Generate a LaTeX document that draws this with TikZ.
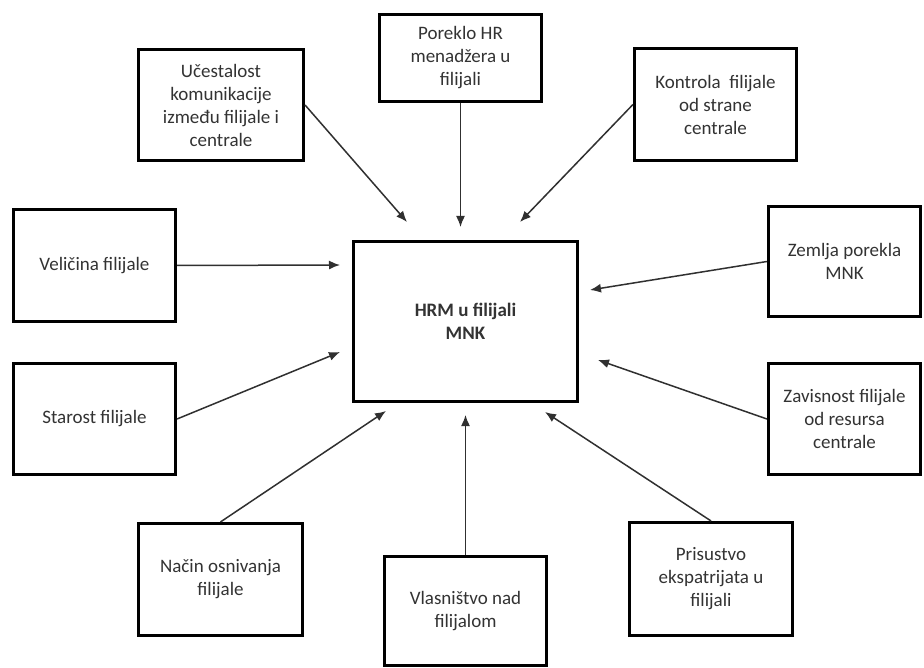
\documentclass[tikz,border=0pt]{standalone}
\usepackage{fontspec}
\setmainfont{Carlito}
\usetikzlibrary{arrows.meta,shadows}
\definecolor{txt}{HTML}{333333}
\definecolor{ln}{HTML}{303030}
\newcommand{\boxfont}{\fontsize{19}{23}\selectfont}
\tikzset{
  box/.style={draw=black, line width=2.6pt, fill=white, align=center, font=\boxfont, text=txt, inner sep=0pt},
  conn/.style={draw=ln, line width=1.5pt, -{Latex[length=11pt,width=9pt]}},
}
\begin{document}
\begin{tikzpicture}[x=1pt,y=-1pt]
\useasboundingbox (0,0) rectangle (924,668);
\fill[white] (0,0) rectangle (924,668);

\node[box, minimum width=224.5pt, minimum height=160.5pt, font=\boxfont\bfseries,
  drop shadow={opacity=0.25, shadow xshift=1.5pt, shadow yshift=-1.5pt}] (c) at (465.5,321.5) {HRM u filijali\\MNK};

\node[box, minimum width=165.5pt, minimum height=111.5pt] (n1) at (221,105) {Učestalost\\komunikacije\\između filijale i\\centrale};
\node[box, minimum width=162.5pt, minimum height=87.5pt] (n2) at (460.5,58) {Poreklo HR\\menadžera u\\filijali};
\node[box, minimum width=162.5pt, minimum height=112.5pt] (n3) at (715.5,104.5) {Kontrola\ \ filijale\\od strane\\centrale};
\node[box, minimum width=162.5pt, minimum height=112.5pt] (n4) at (94.5,265.5) {Veličina filijale};
\node[box, minimum width=162.5pt, minimum height=111.5pt] (n5) at (94.5,419) {Starost filijale};
\node[box, minimum width=152.5pt, minimum height=110.5pt] (n6) at (844.5,261.5) {Zemlja porekla\\MNK};
\node[box, minimum width=152.5pt, minimum height=111.5pt] (n7) at (844.5,419) {Zavisnost filijale\\od resursa\\centrale};
\node[box, minimum width=164.5pt, minimum height=112.5pt] (n8) at (220.5,579.5) {Način osnivanja\\filijale};
\node[box, minimum width=162.5pt, minimum height=109.5pt] (n9) at (465.5,611) {Vlasništvo nad\\filijalom};
\node[box, minimum width=163.5pt, minimum height=113.5pt] (n10) at (711,579) {Prisustvo\\ekspatrijata u\\filijali};

\coordinate (t1) at (407,222);
\coordinate (t2) at (460.5,227);
\coordinate (t3) at (520,222);
\coordinate (t4) at (340,265);
\coordinate (t5) at (340,352);
\coordinate (t6) at (590,290);
\coordinate (t7) at (598,360);
\coordinate (t8) at (386,411);
\coordinate (t9) at (465.5,415);
\coordinate (t10) at (545,412);

\draw[conn] (n1.east) -- (t1);
\draw[conn] (n2.south) -- (t2);
\draw[conn] (n3.west) -- (t3);
\draw[conn] (n4.east) -- (t4);
\draw[conn] (n5.east) -- (t5);
\draw[conn] (n6.west) -- (t6);
\draw[conn] (n7.west) -- (t7);
\draw[conn] (n8.north) -- (t8);
\draw[conn] (n9.north) -- (t9);
\draw[conn] (n10.north) -- (t10);
\end{tikzpicture}
\end{document}
